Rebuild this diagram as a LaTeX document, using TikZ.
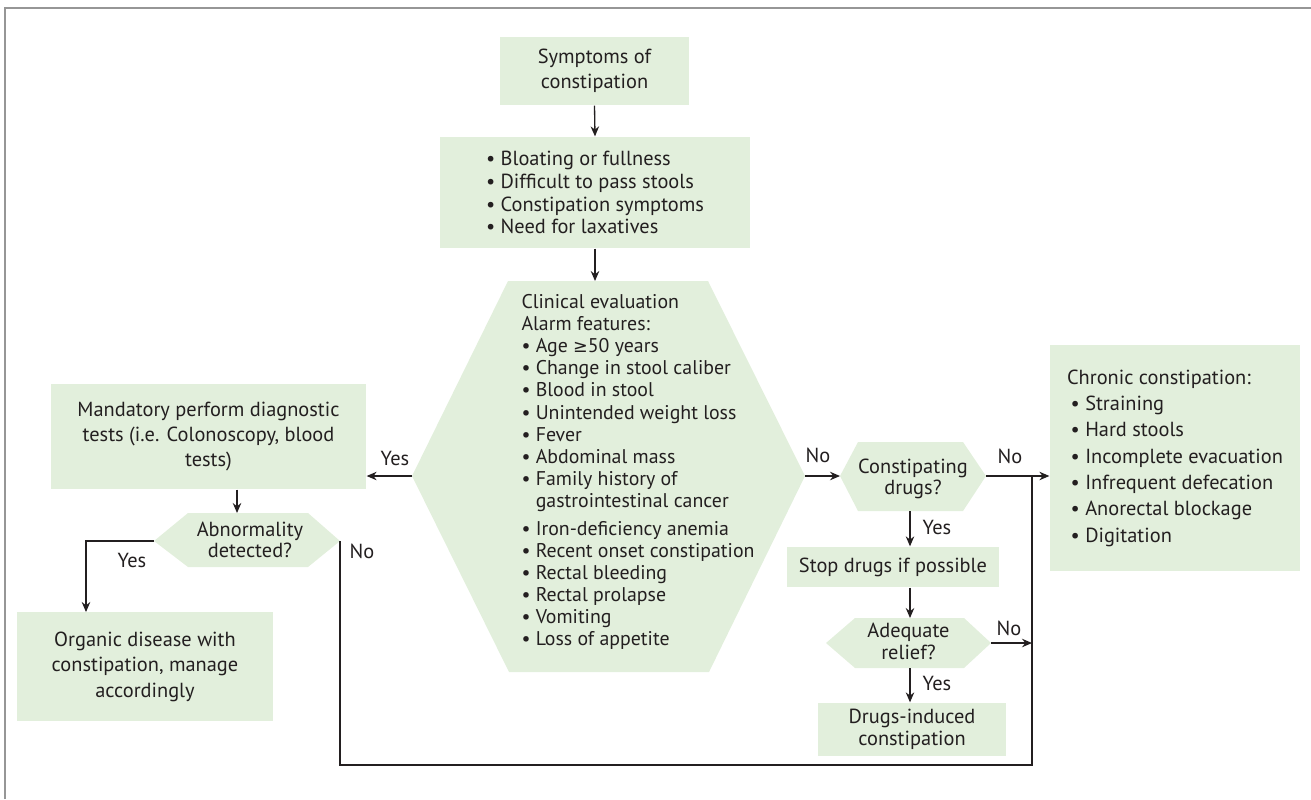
\documentclass[tikz,border=0pt]{standalone}
\usepackage{fontspec}
\setmainfont{PT Sans}
\newfontfamily\symfont{DejaVu Sans}
\usetikzlibrary{arrows.meta}

\definecolor{boxgreen}{RGB}{226,239,220}
\definecolor{ink}{RGB}{35,31,32}
\definecolor{framegray}{RGB}{150,150,150}

\begin{document}
\begin{tikzpicture}[x=0.02cm,y=-0.02cm,line width=0.75pt,color=ink,
  >={Stealth[length=2mm,width=1.7mm]},
  font=\fontsize{11.6}{14}\selectfont,
  box/.style={fill=boxgreen,inner sep=0pt,align=center},
  hexlbl/.style={align=center,font=\fontsize{11.6}{12.2}\selectfont},
  yn/.style={inner sep=1pt}]
  \useasboundingbox (0,0) rectangle (1311,799);
  \draw[framegray,line width=1.2pt] (5,799) -- (5,8) -- (1311,8);

  % boxes
  \node[box,minimum width=3.78cm,minimum height=1.36cm] (symp) at (594.5,71) {Symptoms of\\constipation};
  \node[box,minimum width=6.2cm,minimum height=2.22cm,align=left,font=\fontsize{11.6}{13}\selectfont] (bul) at (595,192.5)
    {• Bloating or fullness\\• Difficult to pass stools\\• Constipation symptoms\\• Need for laxatives};
  \node[box,minimum width=6.3cm,minimum height=2.1cm] (mand) at (208.5,436.5)
    {Mandatory perform diagnostic\\tests (i.e. Colonoscopy, blood\\tests)};
  \node[box,minimum width=5.12cm,minimum height=2.18cm,font=\fontsize{11.6}{14.5}\selectfont] (org) at (145,666.5)
    {Organic disease with\\constipation, manage\\accordingly};
  \node[box,minimum width=5cm,minimum height=4.52cm,align=left,font=\fontsize{11.6}{15}\selectfont] (chron) at (1175,458)
    {Chronic constipation:\\\hspace{2pt}• Straining\\\hspace{2pt}• Hard stools\\\hspace{2pt}• Incomplete evacuation\\
     \hspace{2pt}• Infrequent defecation\\\hspace{2pt}• Anorectal blockage\\\hspace{2pt}• Digitation};
  \node[box,minimum width=4.24cm,minimum height=0.8cm] (stop) at (893,567) {Stop drugs if possible};
  \node[box,minimum width=3.76cm,minimum height=1.06cm,font=\fontsize{11.6}{12.2}\selectfont] (ind) at (912,729.5)
    {Drugs-induced\\constipation};

  % main hexagon
  \coordinate (hxN) at (595,281);
  \coordinate (hxW) at (412,476);
  \coordinate (hxE) at (805,476);
  \fill[boxgreen] (508,281) -- (708,281) -- (hxE) -- (709,672) -- (509,672) -- (hxW) -- cycle;
  \node[align=left,font=\fontsize{11.3}{12.6}\selectfont] (clin) at (638,472)
    {Clinical evaluation\\Alarm features:\\• Age {\symfont\fontsize{10}{12}\selectfont ≥}50 years\\• Change in stool caliber\\• Blood in stool\\
     • Unintended weight loss\\• Fever\\• Abdominal mass\\• Family history of\\\hphantom{• }gastrointestinal cancer\\[3pt]
     • Iron-deficiency anemia\\• Recent onset constipation\\• Rectal bleeding\\• Rectal prolapse\\• Vomiting\\• Loss of appetite};

  % decision hexagons
  \coordinate (abnN) at (237,513);
  \coordinate (abnW) at (154,541);
  \coordinate (abnE) at (340,541);
  \fill[boxgreen] (188,513) -- (308,513) -- (abnE) -- (308,567) -- (188,567) -- (abnW) -- cycle;
  \node[hexlbl] (abn) at (250,540) {Abnormality\\detected?};

  \coordinate (conW) at (840,476);
  \coordinate (conE) at (986,476);
  \coordinate (conS) at (910,511);
  \fill[boxgreen] (858,442) -- (963,442) -- (conE) -- (963,511) -- (858,511) -- (conW) -- cycle;
  \node[hexlbl] (con) at (913,479) {Constipating\\drugs?};

  \coordinate (adeN) at (910,618);
  \coordinate (adeE) at (991,643);
  \coordinate (adeS) at (910,668);
  \fill[boxgreen] (855,618) -- (964,618) -- (adeE) -- (964,668) -- (855,668) -- (826,643) -- cycle;
  \node[hexlbl] (ade) at (908.5,641.5) {Adequate\\relief?};

  \coordinate (orgN) at (86,612);
  \coordinate (junc) at (1032,476);
  \coordinate (loop) at (1032,765);

  % connectors
  \draw[->] (symp.south) -- (bul.north);
  \draw[->] (bul.south) -- (hxN);
  \draw[->] (hxW) -- (mand.east |- hxW);
  \draw[->] (abnN |- mand.south) -- (abnN);
  \draw[->] (abnW) -| (orgN);
  \draw (abnE) |- (loop) -- (junc);
  \draw[->] (hxE) -- (conW);
  \draw[->] (conE) -- (chron.west |- conE);
  \draw[->] (conS) -- (conS |- stop.north);
  \draw[->] (adeN |- stop.south) -- (adeN);
  \draw[->] (adeE) -- (adeE -| junc);
  \draw[->] (adeS) -- (adeS |- ind.north);

  % yes / no
  \node[yn] (y1) at (395,458) {Yes};
  \node[yn] (n1) at (818,455) {No};
  \node[yn] (n2) at (1010,456) {No};
  \node[yn] (y2) at (937,527) {Yes};
  \node[yn] (n3) at (1009,628) {No};
  \node[yn] (y3) at (937,683) {Yes};
  \node[yn] (n4) at (362,551) {No};
  \node[yn] (y4) at (132,560) {Yes};
\end{tikzpicture}
\end{document}
